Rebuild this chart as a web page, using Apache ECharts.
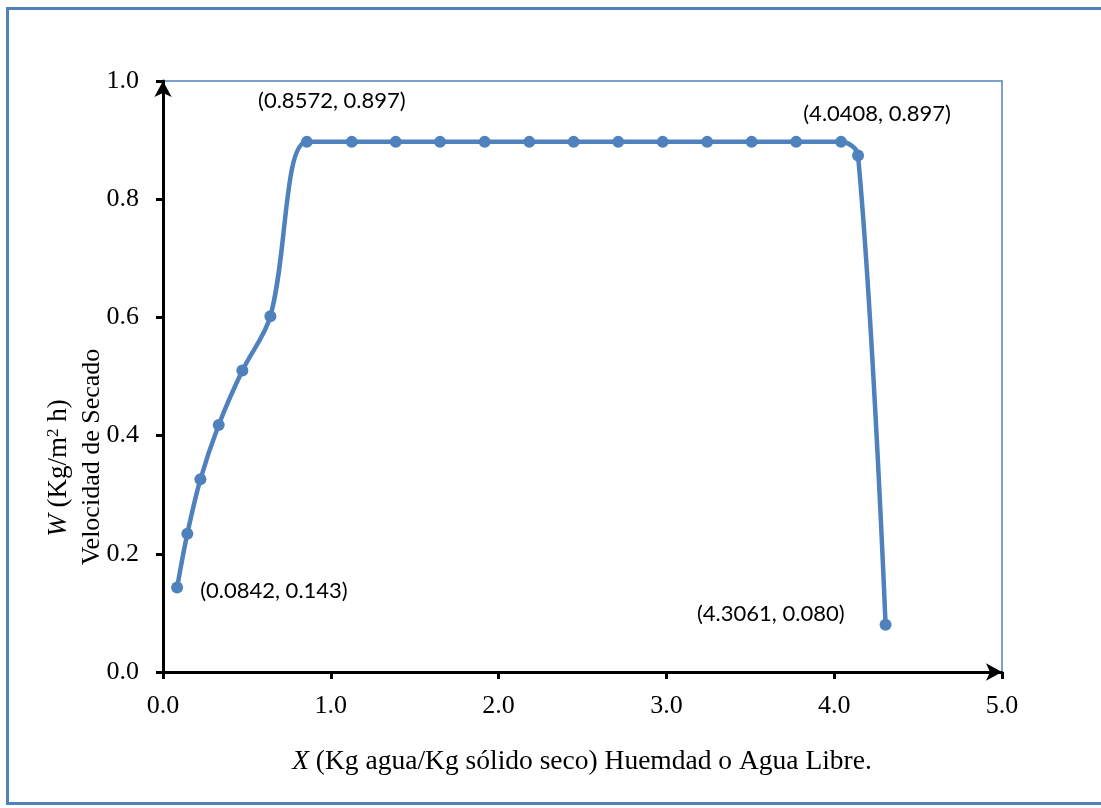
<!DOCTYPE html>
<html><head><meta charset="utf-8">
<script src="https://cdn.jsdelivr.net/npm/echarts@6/dist/echarts.min.js"></script>
<style>html,body{margin:0;padding:0;background:#fff}#c{width:1101px;height:808px}</style>
</head><body><div id="c"></div>
<script>
const xValues = [0.0842, 0.145, 0.223, 0.332, 0.473, 0.640, 0.8572, 1.125, 1.387, 1.651, 1.917, 2.183, 2.447, 2.713, 2.978, 3.243, 3.508, 3.773, 4.0408, 4.142, 4.3061];
const wValues = [0.143, 0.234, 0.326, 0.418, 0.510, 0.602, 0.897, 0.897, 0.897, 0.897, 0.897, 0.897, 0.897, 0.897, 0.897, 0.897, 0.897, 0.897, 0.897, 0.874, 0.080];
const xTicks = ['0.0','1.0','2.0','3.0','4.0','5.0'];
const labelIdx = [0, 6, 18, 20];
const labelText = ['(0.0842, 0.143)', '(0.8572, 0.897)', '(4.0408, 0.897)', '(4.3061, 0.080)'];
const labelPlace = [
  {position: 'right', offset: [12, 3]},
  {position: 'top', offset: [25, -19]},
  {position: 'top', offset: [36, -6]},
  {position: 'left', offset: [-30, -11]}
];

const data = xValues.map((x, i) => {
  const item = {value: [x, wValues[i]]};
  const k = labelIdx.indexOf(i);
  if (k >= 0) {
    item.label = Object.assign({show: true, formatter: labelText[k]}, labelPlace[k]);
  }
  return item;
});

const chart = echarts.init(document.getElementById('c'), null, {renderer: 'canvas'});
const blue = '#4F81BD';
const serif = 'Liberation Serif';
chart.setOption({
  animation: false,
  grid: {left: 163, right: 99, top: 81, bottom: 136, show: true, borderColor: blue, borderWidth: 1.5, backgroundColor: 'transparent'},
  xAxis: {
    type: 'value', min: 0, max: 5, interval: 1,
    axisLine: {show: true, onZero: false, lineStyle: {color: '#000', width: 3}, symbol: ['none', 'arrow'], symbolSize: [13, 16]},
    axisTick: {show: true, inside: false, length: 7, lineStyle: {color: '#000', width: 3}},
    splitLine: {show: false},
    axisLabel: {color: '#000', fontFamily: serif, fontSize: 26, margin: 21, formatter: (v) => xTicks[Math.round(v)]}
  },
  yAxis: {
    type: 'value', min: 0, max: 1, interval: 0.2,
    axisLine: {show: true, onZero: false, lineStyle: {color: '#000', width: 3}, symbol: ['none', 'arrow'], symbolSize: [13, 16]},
    axisTick: {show: true, inside: false, length: 7, lineStyle: {color: '#000', width: 3}},
    splitLine: {show: false},
    axisLabel: {color: '#000', fontFamily: serif, fontSize: 26, margin: 24, formatter: (v) => v.toFixed(1)}
  },
  series: [{
    type: 'line',
    data: data,
    smooth: 0.35,
    symbol: 'circle',
    symbolSize: 12,
    lineStyle: {color: blue, width: 4.5},
    itemStyle: {color: blue},
    label: {show: false, color: '#000', fontFamily: 'Lato', fontSize: 22}
  }],
  graphic: [
    {type: 'rect', left: 5, top: 6, shape: {width: 1100, height: 795}, style: {fill: 'none', stroke: blue, lineWidth: 3}, silent: true},
    {type: 'text', x: 59, y: 468, rotation: Math.PI / 2, style: {text: '{i|W} (Kg/m{s|2} h)', rich: {i: {fontStyle: 'italic', fontFamily: serif, fontSize: 27}, s: {fontFamily: serif, fontSize: 17, verticalAlign: 'top', padding: [0, 0, 10, 0]}}, fontFamily: serif, fontSize: 27, fill: '#000', align: 'center', verticalAlign: 'middle'}},
    {type: 'text', x: 92, y: 457, rotation: Math.PI / 2, style: {text: 'Velocidad de Secado', fontFamily: serif, fontSize: 26, fill: '#000', align: 'center', verticalAlign: 'middle'}},
    {type: 'text', x: 582, y: 762, style: {text: '{i|X} (Kg agua/Kg sólido seco) Huemdad o Agua Libre.', rich: {i: {fontStyle: 'italic', fontFamily: serif, fontSize: 27.5}}, fontFamily: serif, fontSize: 27.5, fill: '#000', align: 'center', verticalAlign: 'middle'}}
  ]
});
</script></body></html>
